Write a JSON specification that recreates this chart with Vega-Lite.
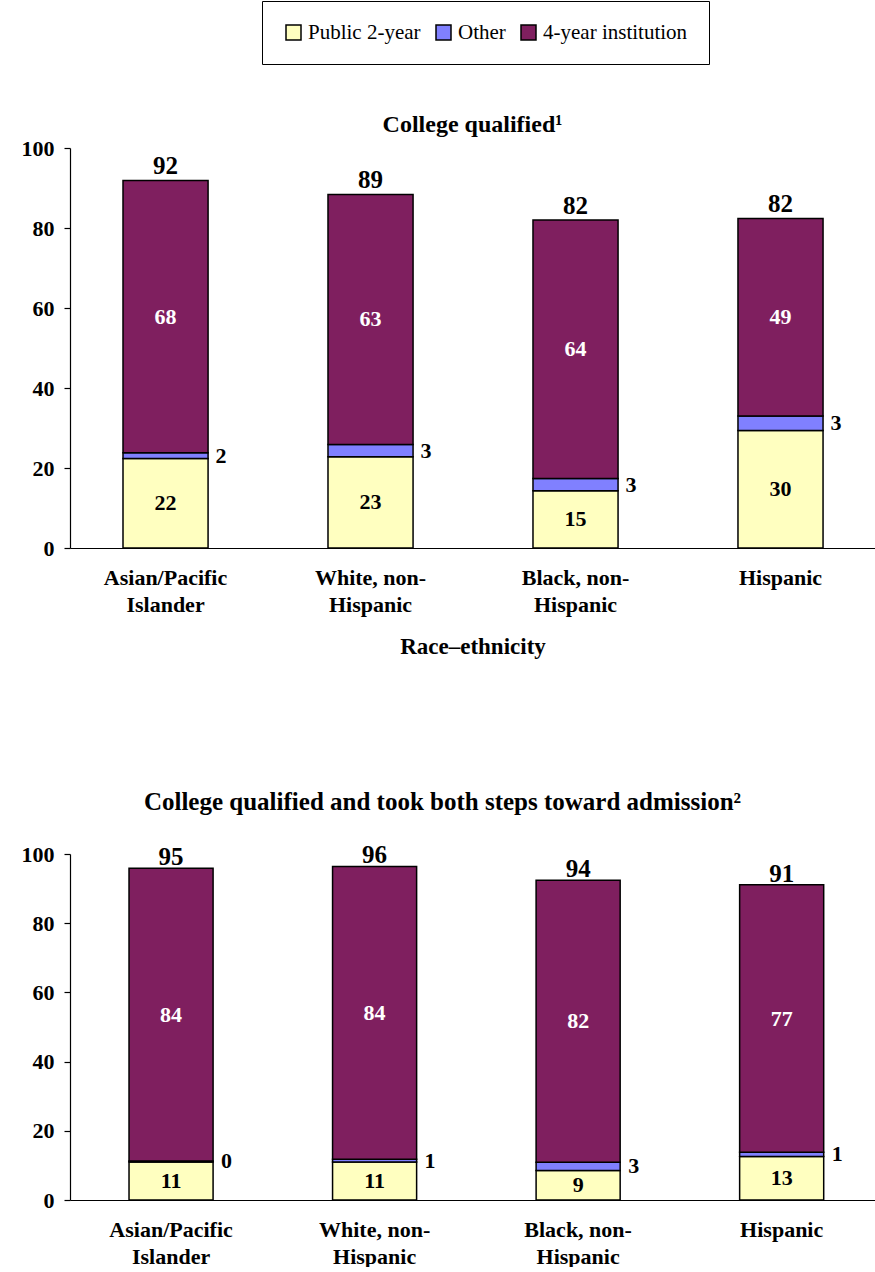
{
  "$schema": "https://vega.github.io/schema/vega-lite/v6.json",
  "background": "white",
  "padding": {"left": 11, "top": 0, "right": 0, "bottom": 0},
  "columns": 1,
  "spacing": 132,
  "config": {
    "view": {"stroke": null},
    "font": "Liberation Serif",
    "axis": {
      "labelFont": "Liberation Serif",
      "labelFontWeight": "bold",
      "labelColor": "black",
      "titleFont": "Liberation Serif",
      "titleFontWeight": "bold",
      "titleColor": "black",
      "domainColor": "black",
      "tickColor": "black",
      "domainWidth": 1.2,
      "tickWidth": 1.2,
      "grid": false
    },
    "title": {"font": "Liberation Serif", "fontWeight": "bold", "color": "black", "frame": "group", "anchor": "middle"},
    "legend": {
      "labelFont": "Liberation Serif",
      "labelFontSize": 21,
      "labelColor": "black",
      "strokeColor": "black",
      "padding": 21,
      "symbolType": "square",
      "symbolSize": 225,
      "symbolStrokeColor": "black",
      "symbolStrokeWidth": 1.5,
      "columnPadding": 12,
      "labelOffset": 4
    }
  },
  "datasets": {
    "bars": [
      {"panel": "top", "group": "Asian/Pacific Islander", "type": "Public 2-year", "order": 1, "value": 22.4, "label": "22"},
      {"panel": "top", "group": "Asian/Pacific Islander", "type": "Other", "order": 2, "value": 1.4, "label": "2"},
      {"panel": "top", "group": "Asian/Pacific Islander", "type": "4-year institution", "order": 3, "value": 68.1, "label": "68"},
      {"panel": "top", "group": "White, non-Hispanic", "type": "Public 2-year", "order": 1, "value": 22.8, "label": "23"},
      {"panel": "top", "group": "White, non-Hispanic", "type": "Other", "order": 2, "value": 3.1, "label": "3"},
      {"panel": "top", "group": "White, non-Hispanic", "type": "4-year institution", "order": 3, "value": 62.5, "label": "63"},
      {"panel": "top", "group": "Black, non-Hispanic", "type": "Public 2-year", "order": 1, "value": 14.3, "label": "15"},
      {"panel": "top", "group": "Black, non-Hispanic", "type": "Other", "order": 2, "value": 3.1, "label": "3"},
      {"panel": "top", "group": "Black, non-Hispanic", "type": "4-year institution", "order": 3, "value": 64.6, "label": "64"},
      {"panel": "top", "group": "Hispanic", "type": "Public 2-year", "order": 1, "value": 29.4, "label": "30"},
      {"panel": "top", "group": "Hispanic", "type": "Other", "order": 2, "value": 3.6, "label": "3"},
      {"panel": "top", "group": "Hispanic", "type": "4-year institution", "order": 3, "value": 49.4, "label": "49"},
      {"panel": "bottom", "group": "Asian/Pacific Islander", "type": "Public 2-year", "order": 1, "value": 11.0, "label": "11"},
      {"panel": "bottom", "group": "Asian/Pacific Islander", "type": "Other", "order": 2, "value": 0.3, "label": "0"},
      {"panel": "bottom", "group": "Asian/Pacific Islander", "type": "4-year institution", "order": 3, "value": 84.6, "label": "84"},
      {"panel": "bottom", "group": "White, non-Hispanic", "type": "Public 2-year", "order": 1, "value": 11.0, "label": "11"},
      {"panel": "bottom", "group": "White, non-Hispanic", "type": "Other", "order": 2, "value": 0.8, "label": "1"},
      {"panel": "bottom", "group": "White, non-Hispanic", "type": "4-year institution", "order": 3, "value": 84.6, "label": "84"},
      {"panel": "bottom", "group": "Black, non-Hispanic", "type": "Public 2-year", "order": 1, "value": 8.5, "label": "9"},
      {"panel": "bottom", "group": "Black, non-Hispanic", "type": "Other", "order": 2, "value": 2.4, "label": "3"},
      {"panel": "bottom", "group": "Black, non-Hispanic", "type": "4-year institution", "order": 3, "value": 81.5, "label": "82"},
      {"panel": "bottom", "group": "Hispanic", "type": "Public 2-year", "order": 1, "value": 12.6, "label": "13"},
      {"panel": "bottom", "group": "Hispanic", "type": "Other", "order": 2, "value": 1.2, "label": "1"},
      {"panel": "bottom", "group": "Hispanic", "type": "4-year institution", "order": 3, "value": 77.3, "label": "77"}
    ],
    "totals": [
      {"panel": "top", "group": "Asian/Pacific Islander", "top": 91.9, "label": "92"},
      {"panel": "top", "group": "White, non-Hispanic", "top": 88.4, "label": "89"},
      {"panel": "top", "group": "Black, non-Hispanic", "top": 82.0, "label": "82"},
      {"panel": "top", "group": "Hispanic", "top": 82.4, "label": "82"},
      {"panel": "bottom", "group": "Asian/Pacific Islander", "top": 95.9, "label": "95"},
      {"panel": "bottom", "group": "White, non-Hispanic", "top": 96.4, "label": "96"},
      {"panel": "bottom", "group": "Black, non-Hispanic", "top": 92.4, "label": "94"},
      {"panel": "bottom", "group": "Hispanic", "top": 91.1, "label": "91"}
    ]
  },
  "concat": [
    {
      "title": {"text": "College qualified¹", "fontSize": 24, "offset": 0},
      "width": 805,
      "height": 400,
      "data": {"name": "bars"},
      "transform": [{"filter": "datum.panel === 'top'"}],
      "encoding": {
        "x": {
          "field": "group", "type": "nominal",
          "sort": ["Asian/Pacific Islander", "White, non-Hispanic", "Black, non-Hispanic", "Hispanic"],
          "scale": {"paddingInner": 0.585, "paddingOuter": 0.256, "align": 0.505},
          "axis": {
            "title": "Race–ethnicity", "titleFontSize": 23, "titlePadding": 20,
            "labelAngle": 0, "ticks": false, "labelPadding": 19, "labelFontSize": 22,
            "labelLineHeight": 27, "labelBaseline": "top",
            "labelExpr": "datum.value === 'Asian/Pacific Islander' ? ['Asian/Pacific', 'Islander'] : datum.value === 'White, non-Hispanic' ? ['White, non-', 'Hispanic'] : datum.value === 'Black, non-Hispanic' ? ['Black, non-', 'Hispanic'] : datum.value"
          }
        }
      },
      "layer": [
        {
          "mark": {"type": "bar", "stroke": "black", "strokeWidth": 1.5},
          "encoding": {
            "y": {"field": "value", "type": "quantitative", "stack": "zero",
              "scale": {"domain": [0, 100]},
              "axis": {"title": null, "values": [0, 20, 40, 60, 80, 100], "tickSize": 6, "labelPadding": 10, "labelFontSize": 22, "minExtent": 59}},
            "color": {"field": "type", "type": "nominal",
              "scale": {"domain": ["Public 2-year", "Other", "4-year institution"], "range": ["#FFFFC0", "#8080FF", "#7F1F5F"]},
              "legend": {"title": null, "orient": "none", "direction": "horizontal", "legendX": 192, "legendY": -147}},
            "order": {"field": "order", "type": "quantitative"}
          }
        },
        {
          "transform": [
            {"stack": "value", "groupby": ["group"], "sort": [{"field": "order"}], "as": ["v0", "v1"]},
            {"calculate": "(datum.v0 + datum.v1) / 2", "as": "mid"},
            {"filter": "datum.type === 'Public 2-year'"}
          ],
          "mark": {"type": "text", "fontSize": 22, "fontWeight": "bold", "color": "black", "font": "Liberation Serif"},
          "encoding": {"y": {"field": "mid", "type": "quantitative"}, "text": {"field": "label"}}
        },
        {
          "transform": [
            {"stack": "value", "groupby": ["group"], "sort": [{"field": "order"}], "as": ["v0", "v1"]},
            {"calculate": "(datum.v0 + datum.v1) / 2", "as": "mid"},
            {"filter": "datum.type === '4-year institution'"}
          ],
          "mark": {"type": "text", "fontSize": 22, "fontWeight": "bold", "color": "white", "font": "Liberation Serif"},
          "encoding": {"y": {"field": "mid", "type": "quantitative"}, "text": {"field": "label"}}
        },
        {
          "transform": [
            {"stack": "value", "groupby": ["group"], "sort": [{"field": "order"}], "as": ["v0", "v1"]},
            {"calculate": "(datum.v0 + datum.v1) / 2", "as": "mid"},
            {"filter": "datum.type === 'Other'"}
          ],
          "mark": {"type": "text", "fontSize": 22, "fontWeight": "bold", "color": "black", "font": "Liberation Serif", "align": "left", "dx": 50},
          "encoding": {"y": {"field": "mid", "type": "quantitative"}, "text": {"field": "label"}}
        },
        {
          "data": {"name": "totals"},
          "transform": [{"filter": "datum.panel === 'top'"}],
          "mark": {"type": "text", "fontSize": 25, "fontWeight": "bold", "color": "black", "font": "Liberation Serif", "baseline": "alphabetic", "dy": -6},
          "encoding": {"y": {"field": "top", "type": "quantitative"}, "text": {"field": "label"}}
        }
      ]
    },
    {
      "title": {"text": "College qualified and took both steps toward admission²", "fontSize": 25, "offset": 28, "dx": -30},
      "width": 805,
      "height": 346,
      "data": {"name": "bars"},
      "transform": [{"filter": "datum.panel === 'bottom'"}],
      "encoding": {
        "x": {
          "field": "group", "type": "nominal",
          "sort": ["Asian/Pacific Islander", "White, non-Hispanic", "Black, non-Hispanic", "Hispanic"],
          "scale": {"paddingInner": 0.587, "paddingOuter": 0.271, "align": 0.535},
          "axis": {
            "title": null,
            "labelAngle": 0, "ticks": false, "labelPadding": 19, "labelFontSize": 22,
            "labelLineHeight": 27, "labelBaseline": "top",
            "labelExpr": "datum.value === 'Asian/Pacific Islander' ? ['Asian/Pacific', 'Islander'] : datum.value === 'White, non-Hispanic' ? ['White, non-', 'Hispanic'] : datum.value === 'Black, non-Hispanic' ? ['Black, non-', 'Hispanic'] : datum.value"
          }
        }
      },
      "layer": [
        {
          "mark": {"type": "bar", "stroke": "black", "strokeWidth": 1.5},
          "encoding": {
            "y": {"field": "value", "type": "quantitative", "stack": "zero",
              "scale": {"domain": [0, 100]},
              "axis": {"title": null, "values": [0, 20, 40, 60, 80, 100], "tickSize": 6, "labelPadding": 10, "labelFontSize": 22, "minExtent": 59}},
            "color": {"field": "type", "type": "nominal",
              "scale": {"domain": ["Public 2-year", "Other", "4-year institution"], "range": ["#FFFFC0", "#8080FF", "#7F1F5F"]},
              "legend": {"title": null, "orient": "none", "direction": "horizontal", "legendX": 192, "legendY": -147}},
            "order": {"field": "order", "type": "quantitative"}
          }
        },
        {
          "transform": [
            {"stack": "value", "groupby": ["group"], "sort": [{"field": "order"}], "as": ["v0", "v1"]},
            {"calculate": "(datum.v0 + datum.v1) / 2", "as": "mid"},
            {"filter": "datum.type === 'Public 2-year'"}
          ],
          "mark": {"type": "text", "fontSize": 22, "fontWeight": "bold", "color": "black", "font": "Liberation Serif"},
          "encoding": {"y": {"field": "mid", "type": "quantitative"}, "text": {"field": "label"}}
        },
        {
          "transform": [
            {"stack": "value", "groupby": ["group"], "sort": [{"field": "order"}], "as": ["v0", "v1"]},
            {"calculate": "(datum.v0 + datum.v1) / 2", "as": "mid"},
            {"filter": "datum.type === '4-year institution'"}
          ],
          "mark": {"type": "text", "fontSize": 22, "fontWeight": "bold", "color": "white", "font": "Liberation Serif"},
          "encoding": {"y": {"field": "mid", "type": "quantitative"}, "text": {"field": "label"}}
        },
        {
          "transform": [
            {"stack": "value", "groupby": ["group"], "sort": [{"field": "order"}], "as": ["v0", "v1"]},
            {"calculate": "(datum.v0 + datum.v1) / 2", "as": "mid"},
            {"filter": "datum.type === 'Other'"}
          ],
          "mark": {"type": "text", "fontSize": 22, "fontWeight": "bold", "color": "black", "font": "Liberation Serif", "align": "left", "dx": 50},
          "encoding": {"y": {"field": "mid", "type": "quantitative"}, "text": {"field": "label"}}
        },
        {
          "data": {"name": "totals"},
          "transform": [{"filter": "datum.panel === 'bottom'"}],
          "mark": {"type": "text", "fontSize": 25, "fontWeight": "bold", "color": "black", "font": "Liberation Serif", "baseline": "alphabetic", "dy": -3},
          "encoding": {"y": {"field": "top", "type": "quantitative"}, "text": {"field": "label"}}
        }
      ]
    }
  ]
}
